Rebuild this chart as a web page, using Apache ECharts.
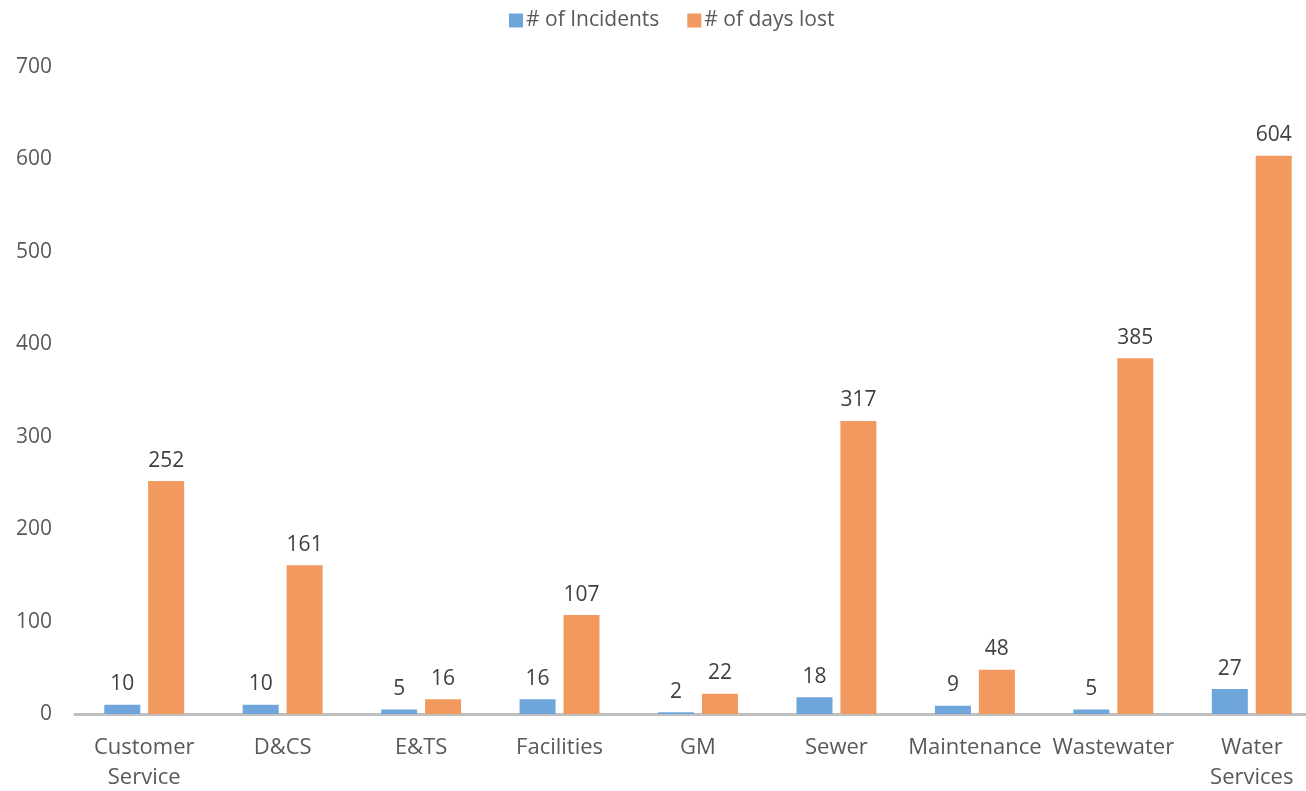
<!DOCTYPE html>
<html>
<head>
<meta charset="utf-8">
<script src="https://cdn.jsdelivr.net/npm/echarts@6/dist/echarts.min.js"></script>
<style>
  html, body { margin: 0; padding: 0; background: #fff; }
  #chart { width: 1306px; height: 791px; }
</style>
</head>
<body>
<div id="chart"></div>
<script>
// Incidents and days lost per department
const categories = ['Customer\nService', 'D&CS', 'E&TS', 'Facilities', 'GM', 'Sewer', 'Maintenance', 'Wastewater', 'Water\nServices'];
const incidents = [10, 10, 5, 16, 2, 18, 9, 5, 27];
const daysLost = [252, 161, 16, 107, 22, 317, 48, 385, 604];
const yTicks = { min: 0, max: 700, interval: 100 };

const font = '"Open Sans", "Liberation Sans", sans-serif';
const chart = echarts.init(document.getElementById('chart'));

const labelStyle = {
  show: true,
  position: 'top',
  distance: 10,
  color: '#404040',
  fontSize: 21,
  fontFamily: font
};

chart.setOption({
  animation: false,
  backgroundColor: '#ffffff',
  legend: {
    top: 5,
    left: 504,
    itemWidth: 14,
    itemHeight: 14,
    itemGap: 28,
    icon: 'rect',
    textStyle: { color: '#595959', fontSize: 21, fontFamily: font, padding: [0, 0, 0, -2] },
    data: ['# of Incidents', '# of days lost']
  },
  grid: { left: 75, right: -15, top: 67, bottom: 77, containLabel: false, outerBoundsMode: 'none' },
  xAxis: {
    type: 'category',
    data: categories,
    axisLine: { lineStyle: { color: '#bfbfbf', width: 3 } },
    axisTick: { show: false },
    axisLabel: { color: '#595959', fontSize: 22, fontFamily: font, margin: 19, lineHeight: 30, interval: 0 }
  },
  yAxis: {
    type: 'value',
    min: yTicks.min,
    max: yTicks.max,
    interval: yTicks.interval,
    axisLine: { show: false },
    axisTick: { show: false },
    splitLine: { show: false },
    axisLabel: { color: '#595959', fontSize: 21, fontFamily: font, margin: 23 }
  },
  series: [
    {
      name: '# of Incidents',
      type: 'bar',
      data: incidents,
      barWidth: 36,
      barGap: '22%',
      itemStyle: { color: '#6ea6dc' },
      label: labelStyle
    },
    {
      name: '# of days lost',
      type: 'bar',
      data: daysLost,
      barWidth: 36,
      itemStyle: { color: '#f2995f' },
      label: labelStyle
    }
  ]
});
</script>
</body>
</html>
